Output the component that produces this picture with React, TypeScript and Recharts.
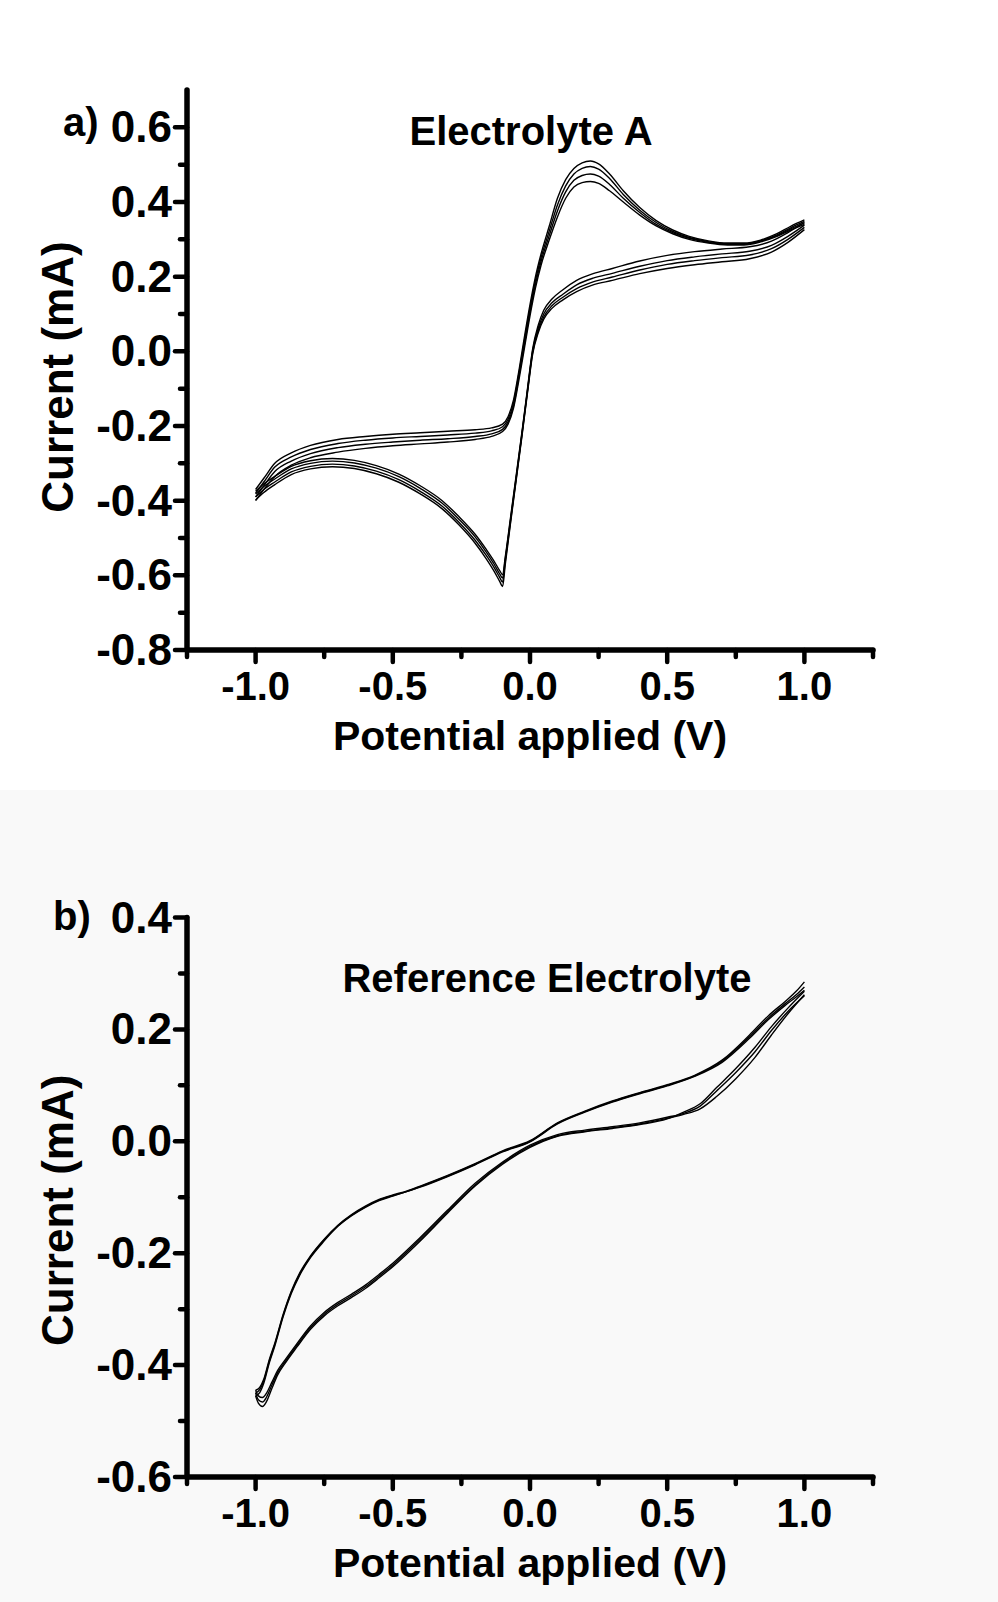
import React from 'react';
import { LineChart, Line, XAxis, YAxis } from 'recharts';

const FONT = '"Liberation Sans", Arial, Helvetica, sans-serif';

// axis ticks (minor ticks carry no label)
const potentialTicks = [-1.25, -1, -0.75, -0.5, -0.25, 0, 0.25, 0.5, 0.75, 1, 1.25];
const currentTicksA = [-0.8, -0.7, -0.6, -0.5, -0.4, -0.3, -0.2, -0.1, 0, 0.1, 0.2, 0.3, 0.4, 0.5, 0.6];
const currentTicksB = [-0.6, -0.5, -0.4, -0.3, -0.2, -0.1, 0, 0.1, 0.2, 0.3, 0.4];

// ---- panel a: Electrolyte A, anodic sweep (V ascending) ----
const fwdV = [-1.0, -0.97, -0.93, -0.87, -0.8, -0.7, -0.6, -0.5, -0.4, -0.3, -0.2, -0.14, -0.1, -0.08, -0.06, -0.04, -0.02, 0.0, 0.02, 0.04, 0.07, 0.1, 0.13, 0.16, 0.19, 0.22, 0.25, 0.29, 0.34, 0.4, 0.46, 0.52, 0.58, 0.65, 0.72, 0.78, 0.84, 0.9, 0.95, 1.0];
const fwdA1 = [-0.37, -0.34, -0.3, -0.272, -0.252, -0.236, -0.228, -0.222, -0.218, -0.214, -0.21, -0.205, -0.195, -0.175, -0.13, -0.05, 0.04, 0.125, 0.2, 0.26, 0.335, 0.41, 0.46, 0.49, 0.505, 0.51, 0.502, 0.475, 0.43, 0.385, 0.35, 0.325, 0.308, 0.296, 0.29, 0.29, 0.298, 0.315, 0.335, 0.352];
const fwdA2 = [-0.38, -0.35, -0.31, -0.283, -0.263, -0.247, -0.238, -0.232, -0.228, -0.224, -0.219, -0.213, -0.202, -0.182, -0.138, -0.058, 0.03, 0.115, 0.19, 0.25, 0.322, 0.392, 0.443, 0.475, 0.49, 0.495, 0.488, 0.463, 0.42, 0.378, 0.345, 0.321, 0.305, 0.294, 0.288, 0.288, 0.296, 0.312, 0.331, 0.348];
const fwdA3 = [-0.39, -0.36, -0.322, -0.294, -0.274, -0.258, -0.249, -0.243, -0.238, -0.234, -0.228, -0.221, -0.209, -0.189, -0.146, -0.066, 0.02, 0.105, 0.18, 0.24, 0.31, 0.376, 0.427, 0.458, 0.471, 0.475, 0.469, 0.447, 0.41, 0.372, 0.34, 0.318, 0.303, 0.292, 0.287, 0.287, 0.295, 0.31, 0.328, 0.344];
const fwdA4 = [-0.4, -0.37, -0.335, -0.305, -0.285, -0.27, -0.26, -0.253, -0.248, -0.243, -0.236, -0.228, -0.215, -0.195, -0.152, -0.075, 0.01, 0.095, 0.17, 0.23, 0.298, 0.36, 0.41, 0.44, 0.452, 0.455, 0.45, 0.43, 0.4, 0.365, 0.336, 0.315, 0.3, 0.29, 0.285, 0.285, 0.293, 0.308, 0.325, 0.34];

// ---- panel a: cathodic sweep (stored with V ascending) ----
const revV = [-1.0, -0.97, -0.93, -0.87, -0.8, -0.72, -0.64, -0.56, -0.48, -0.4, -0.32, -0.26, -0.2, -0.16, -0.13, -0.11, -0.1, -0.09, -0.07, -0.05, -0.03, -0.01, 0.01, 0.03, 0.05, 0.08, 0.12, 0.17, 0.23, 0.3, 0.4, 0.5, 0.6, 0.7, 0.8, 0.88, 0.94, 1.0];
const revA1 = [-0.375, -0.355, -0.335, -0.308, -0.293, -0.287, -0.292, -0.306, -0.328, -0.36, -0.4, -0.442, -0.49, -0.53, -0.563, -0.588, -0.598, -0.55, -0.44, -0.33, -0.22, -0.105, 0.008, 0.07, 0.11, 0.14, 0.165, 0.19, 0.208, 0.222, 0.242, 0.257, 0.267, 0.274, 0.28, 0.295, 0.318, 0.345];
const revA2 = [-0.382, -0.362, -0.342, -0.315, -0.3, -0.294, -0.299, -0.313, -0.335, -0.367, -0.407, -0.449, -0.497, -0.537, -0.571, -0.597, -0.607, -0.556, -0.445, -0.335, -0.224, -0.109, 0.003, 0.062, 0.1, 0.13, 0.153, 0.178, 0.196, 0.209, 0.228, 0.243, 0.253, 0.261, 0.268, 0.284, 0.308, 0.338];
const revA3 = [-0.39, -0.37, -0.35, -0.323, -0.308, -0.302, -0.307, -0.321, -0.343, -0.375, -0.415, -0.457, -0.506, -0.546, -0.58, -0.606, -0.618, -0.562, -0.45, -0.339, -0.227, -0.112, -0.002, 0.055, 0.092, 0.122, 0.145, 0.168, 0.186, 0.199, 0.218, 0.233, 0.243, 0.251, 0.258, 0.275, 0.3, 0.332];
const revA4 = [-0.398, -0.378, -0.357, -0.33, -0.315, -0.309, -0.314, -0.328, -0.35, -0.382, -0.422, -0.464, -0.514, -0.555, -0.59, -0.617, -0.63, -0.57, -0.455, -0.343, -0.231, -0.116, -0.006, 0.05, 0.086, 0.115, 0.138, 0.16, 0.178, 0.19, 0.208, 0.222, 0.232, 0.24, 0.248, 0.266, 0.292, 0.326];

// ---- panel b: Reference Electrolyte, upper branch ----
const upV = [-1.0, -0.985, -0.97, -0.95, -0.93, -0.9, -0.87, -0.84, -0.8, -0.75, -0.7, -0.65, -0.6, -0.55, -0.5, -0.45, -0.4, -0.3, -0.2, -0.1, 0.0, 0.1, 0.2, 0.3, 0.4, 0.5, 0.6, 0.7, 0.8, 0.87, 0.93, 0.97, 1.0];
const upB1 = [-0.445, -0.44, -0.425, -0.39, -0.361, -0.31, -0.268, -0.236, -0.205, -0.175, -0.15, -0.131, -0.116, -0.104, -0.096, -0.089, -0.08, -0.061, -0.04, -0.017, 0.001, 0.033, 0.054, 0.072, 0.087, 0.101, 0.118, 0.145, 0.19, 0.225, 0.25, 0.268, 0.285];
const upB2 = [-0.45, -0.444, -0.428, -0.393, -0.363, -0.312, -0.27, -0.238, -0.206, -0.176, -0.151, -0.132, -0.117, -0.105, -0.097, -0.09, -0.081, -0.062, -0.041, -0.018, 0.0, 0.032, 0.053, 0.071, 0.086, 0.1, 0.117, 0.143, 0.187, 0.221, 0.246, 0.262, 0.276];
const upB3 = [-0.455, -0.449, -0.432, -0.396, -0.366, -0.314, -0.272, -0.24, -0.208, -0.178, -0.152, -0.133, -0.118, -0.106, -0.098, -0.09, -0.082, -0.063, -0.042, -0.019, -0.001, 0.031, 0.052, 0.07, 0.085, 0.099, 0.116, 0.141, 0.184, 0.218, 0.243, 0.258, 0.27];

// ---- panel b: lower branch ----
const lowV = [-1.0, -0.99, -0.975, -0.96, -0.94, -0.92, -0.89, -0.85, -0.8, -0.75, -0.7, -0.65, -0.6, -0.55, -0.5, -0.4, -0.3, -0.2, -0.1, 0.0, 0.1, 0.2, 0.3, 0.4, 0.5, 0.56, 0.62, 0.68, 0.75, 0.82, 0.88, 0.94, 1.0];
const lowB1 = [-0.445, -0.455, -0.458, -0.45, -0.43, -0.41, -0.389, -0.362, -0.33, -0.306, -0.288, -0.273, -0.257, -0.238, -0.218, -0.172, -0.123, -0.075, -0.037, -0.007, 0.012, 0.02, 0.026, 0.033, 0.043, 0.05, 0.063, 0.09, 0.123, 0.16, 0.198, 0.232, 0.26];
const lowB2 = [-0.45, -0.462, -0.466, -0.457, -0.435, -0.414, -0.392, -0.365, -0.333, -0.309, -0.291, -0.276, -0.26, -0.241, -0.221, -0.175, -0.126, -0.078, -0.039, -0.009, 0.01, 0.018, 0.024, 0.031, 0.041, 0.048, 0.058, 0.08, 0.112, 0.15, 0.19, 0.228, 0.262];
const lowB3 = [-0.455, -0.468, -0.474, -0.465, -0.441, -0.418, -0.395, -0.368, -0.336, -0.312, -0.294, -0.279, -0.263, -0.244, -0.224, -0.178, -0.128, -0.08, -0.041, -0.011, 0.009, 0.017, 0.023, 0.03, 0.04, 0.052, 0.067, 0.096, 0.13, 0.168, 0.205, 0.238, 0.268];

type Pt = { v: number; i: number };
const toRows = (vs: number[], is: number[]): Pt[] => vs.map((v, k) => ({ v, i: is[k] }));

const sweepsA = [
  toRows(fwdV, fwdA1), toRows(fwdV, fwdA2), toRows(fwdV, fwdA3), toRows(fwdV, fwdA4),
  toRows(revV, revA1), toRows(revV, revA2), toRows(revV, revA3), toRows(revV, revA4),
];
const sweepsB = [
  toRows(upV, upB1), toRows(upV, upB2), toRows(upV, upB3),
  toRows(lowV, lowB1), toRows(lowV, lowB2), toRows(lowV, lowB3),
];

const textStyle: React.CSSProperties = { fontFamily: FONT, fontWeight: 700, fontSize: 40, fill: '#000' };
const yTextStyle: React.CSSProperties = { ...textStyle, fontSize: 44 };

function PotentialTick({ x, y, payload }: any) {
  const v = payload.value;
  const major = Math.abs(v) <= 1 && Math.round(v * 4) % 2 === 0;
  return (
    <g>
      <line x1={x} x2={x} y1={y} y2={y + (major ? 12 : 7)} stroke="#000" strokeWidth={4.5} strokeLinecap="round" />
      {major && (
        <text x={x} y={y + 50} textAnchor="middle" style={textStyle}>
          {v.toFixed(1)}
        </text>
      )}
    </g>
  );
}

function CurrentTick({ x, y, payload }: any) {
  const v = payload.value;
  const major = Math.round(v * 10) % 2 === 0;
  return (
    <g>
      <line x1={x} x2={x - (major ? 12 : 7)} y1={y} y2={y} stroke="#000" strokeWidth={4.5} strokeLinecap="round" />
      {major && (
        <text x={x - 15} y={y + 15} textAnchor="end" style={yTextStyle}>
          {v.toFixed(1)}
        </text>
      )}
    </g>
  );
}

function PotentialTitle({ viewBox }: any) {
  const vb = viewBox || { x: 187, y: 650, width: 686 };
  return (
    <text x={vb.x + vb.width / 2} y={vb.y + 100} textAnchor="middle" style={{ ...textStyle, fontSize: 41 }}>
      Potential applied (V)
    </text>
  );
}

function CurrentTitle({ viewBox, shift }: any) {
  const vb = viewBox || { y: 90, height: 560 };
  const cx = 73;
  const cy = vb.y + vb.height / 2 + (shift || 0);
  return (
    <text x={cx} y={cy} transform={`rotate(-90 ${cx} ${cy})`} textAnchor="middle" style={yTextStyle}>
      Current (mA)
    </text>
  );
}

type PanelProps = {
  sweeps: Pt[][];
  yDomain: [number, number];
  yTicks: number[];
  height: number;
  margin: { top: number; right: number; bottom: number; left: number };
  titleShift: number;
};

function CvPanel({ sweeps, yDomain, yTicks, height, margin, titleShift }: PanelProps) {
  const axisLine = { stroke: '#000', strokeWidth: 5.5, strokeLinecap: 'round' as const };
  return (
    <LineChart width={998} height={height} margin={margin}>
      <XAxis
        dataKey="v"
        type="number"
        domain={[-1.25, 1.25]}
        ticks={potentialTicks}
        interval={0}
        height={120}
        tickSize={0}
        tickMargin={0}
        tickLine={false}
        axisLine={axisLine}
        tick={<PotentialTick />}
        label={<PotentialTitle />}
        allowDataOverflow
      />
      <YAxis
        dataKey="i"
        type="number"
        domain={yDomain}
        ticks={yTicks}
        interval={0}
        width={100}
        tickSize={0}
        tickMargin={0}
        tickLine={false}
        axisLine={axisLine}
        tick={<CurrentTick />}
        label={<CurrentTitle shift={titleShift} />}
        allowDataOverflow
      />
      {sweeps.map((rows, k) => (
        <Line
          key={k}
          data={rows}
          dataKey="i"
          type="monotone"
          stroke="#000"
          strokeWidth={1.4}
          dot={false}
          activeDot={false}
          isAnimationActive={false}
        />
      ))}
    </LineChart>
  );
}

export default function App() {
  return (
    <div style={{ position: 'absolute', left: 0, top: 0, width: 998, height: 1602, background: '#fff', overflow: 'hidden' }}>
      <div style={{ position: 'absolute', left: 0, top: 790, width: 998, height: 812, background: '#f9f9f9' }} />
      <div style={{ position: 'absolute', left: 0, top: 0 }}>
        <CvPanel
          sweeps={sweepsA}
          yDomain={[-0.8, 0.7]}
          yTicks={currentTicksA}
          height={780}
          margin={{ top: 90, right: 125, bottom: 10, left: 87 }}
          titleShift={7}
        />
      </div>
      <div style={{ position: 'absolute', left: 0, top: 800 }}>
        <CvPanel
          sweeps={sweepsB}
          yDomain={[-0.6, 0.4]}
          yTicks={currentTicksB}
          height={802}
          margin={{ top: 117.5, right: 125, bottom: 5, left: 87 }}
          titleShift={13}
        />
      </div>
      <svg width={998} height={1602} style={{ position: 'absolute', left: 0, top: 0, pointerEvents: 'none' }}>
        <text x={63} y={136} style={textStyle}>a)</text>
        <text x={531} y={145} textAnchor="middle" style={textStyle}>Electrolyte A</text>
        <text x={53} y={930} style={textStyle}>b)</text>
        <text x={547} y={992} textAnchor="middle" style={textStyle}>Reference Electrolyte</text>
      </svg>
    </div>
  );
}
